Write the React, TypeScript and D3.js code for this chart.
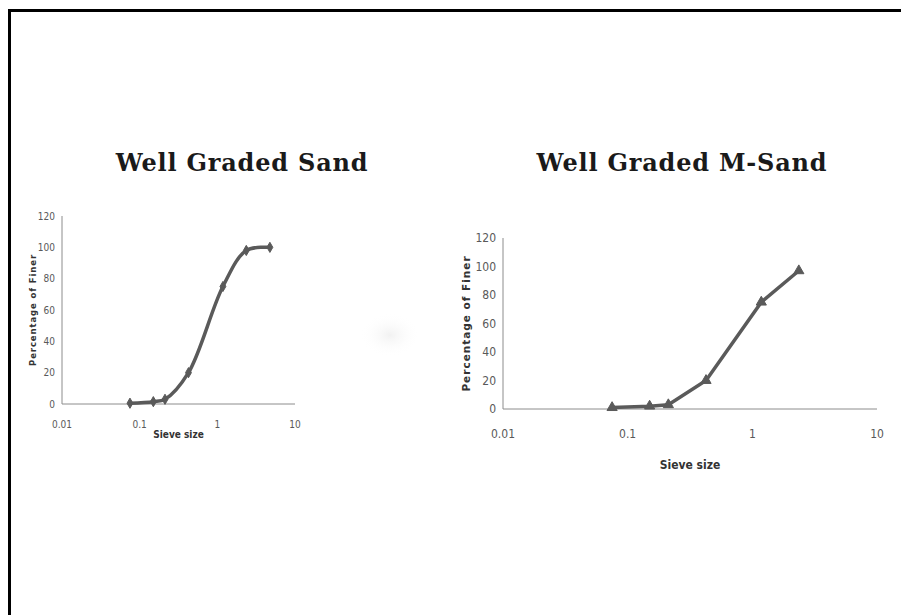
import React from "react";
import * as d3 from "d3";

// sieve sizes (mm) and % finer
const sandSieve = [0.075, 0.15, 0.212, 0.425, 1.18, 2.36, 4.75];
const sandFiner = [0.5, 1.5, 3, 20, 75, 98, 100];

const msandSieve = [0.075, 0.15, 0.212, 0.425, 1.18, 2.36];
const msandFiner = [1, 2, 3, 20, 75, 97];

const xTicks = [0.01, 0.1, 1, 10];
const yTicks = [0, 20, 40, 60, 80, 100, 120];

const GREY = "#5a5a5a";
const AXIS = "#8c8c8c";
const LABEL = "#595959";
const NARROW = "'DejaVu Sans Condensed', 'Liberation Sans', sans-serif";

type PanelProps = {
  title: string;
  sieve: number[];
  finer: number[];
  left: number;
  right: number;
  top: number;
  bottom: number;
  smooth: boolean;
  marker: d3.SymbolType;
  markerSize: number;
  tickFont: number;
  axisFont: number;
  axisSpacing: number;
  titleX: number;
  titleY: number;
  yLabelX: number;
  xLabelY: number;
};

const Panel = (p: PanelProps) => {
  const x = d3.scaleLog().domain([0.01, 10]).range([p.left, p.right]);
  const y = d3.scaleLinear().domain([0, 120]).range([p.bottom, p.top]);
  const pts = p.sieve.map((s, i) => [s, p.finer[i]] as [number, number]);

  const line = d3
    .line<[number, number]>()
    .x((d) => x(d[0]))
    .y((d) => y(d[1]))
    .curve(p.smooth ? d3.curveCatmullRom.alpha(0.5) : d3.curveLinear);

  const sym = d3.symbol().type(p.marker).size(p.markerSize);

  return (
    <g>
      <text
        x={p.titleX}
        y={p.titleY}
        textAnchor="middle"
        fontFamily="'DejaVu Serif', serif"
        fontWeight="bold"
        fontSize={24}
        letterSpacing={0.8}
        fill="#1a1a1a"
      >
        {p.title}
      </text>
      {/* axes */}
      <line x1={p.left} x2={p.left} y1={p.top} y2={p.bottom} stroke={AXIS} strokeWidth={1} />
      <line x1={p.left} x2={p.right} y1={p.bottom} y2={p.bottom} stroke={AXIS} strokeWidth={1} />
      {yTicks.map((t) => (
        <text
          key={"y" + t}
          x={p.left - 7}
          y={y(t)}
          dy="0.35em"
          textAnchor="end"
          fontFamily={NARROW}
          fontSize={p.tickFont}
          fill={LABEL}
        >
          {t}
        </text>
      ))}
      {xTicks.map((t) => (
        <text
          key={"x" + t}
          x={x(t)}
          y={p.bottom + p.tickFont * 2.4}
          textAnchor="middle"
          fontFamily={NARROW}
          fontSize={p.tickFont}
          fill={LABEL}
        >
          {t}
        </text>
      ))}
      <text
        transform={`translate(${p.yLabelX},${(p.top + p.bottom) / 2}) rotate(-90)`}
        textAnchor="middle"
        fontFamily="'DejaVu Sans', sans-serif"
        fontWeight="bold"
        fontSize={p.axisFont}
        letterSpacing={p.axisSpacing}
        fill="#333"
        dy="0.35em"
      >
        Percentage of Finer
      </text>
      <text
        x={(p.left + p.right) / 2}
        y={p.xLabelY}
        textAnchor="middle"
        fontFamily={NARROW}
        fontWeight="bold"
        fontSize={p.tickFont}
        fill="#333"
      >
        Sieve size
      </text>
      <path d={line(pts) || ""} fill="none" stroke={GREY} strokeWidth={3.5} />
      {pts.map((d, i) => (
        <path
          key={i}
          d={sym() || ""}
          transform={`translate(${x(d[0])},${y(d[1])})`}
          fill={GREY}
          stroke={GREY}
          strokeWidth={1}
        />
      ))}
    </g>
  );
};

const App = () => {
  return (
    <svg
      width={901}
      height={615}
      style={{ position: "absolute", left: 0, top: 0, background: "#fff" }}
    >
      <rect x={0} y={0} width={901} height={615} fill="#fff" />
      <defs>
        <radialGradient id="smudge">
          <stop offset="0%" stopColor="#ececec" stopOpacity={0.7} />
          <stop offset="100%" stopColor="#ffffff" stopOpacity={0} />
        </radialGradient>
      </defs>
      <ellipse cx={390} cy={335} rx={30} ry={22} fill="url(#smudge)" />
      {/* frame */}
      <line x1={9.5} x2={9.5} y1={9} y2={615} stroke="#000" strokeWidth={3} />
      <line x1={8} x2={901} y1={10.5} y2={10.5} stroke="#000" strokeWidth={3} />

      <Panel
        title="Well Graded Sand"
        sieve={sandSieve}
        finer={sandFiner}
        left={62}
        right={295}
        top={216}
        bottom={404}
        smooth={true}
        marker={d3.symbolDiamond}
        markerSize={30}
        tickFont={10}
        axisFont={8.5}
        axisSpacing={0.9}
        titleX={242}
        titleY={171}
        yLabelX={33}
        xLabelY={438}
      />
      <Panel
        title="Well Graded M-Sand"
        sieve={msandSieve}
        finer={msandFiner}
        left={503}
        right={877}
        top={238}
        bottom={409}
        smooth={false}
        marker={d3.symbolTriangle}
        markerSize={45}
        tickFont={12}
        axisFont={10.5}
        axisSpacing={1}
        titleX={682}
        titleY={171}
        yLabelX={466}
        xLabelY={469}
      />
    </svg>
  );
};

export default App;
